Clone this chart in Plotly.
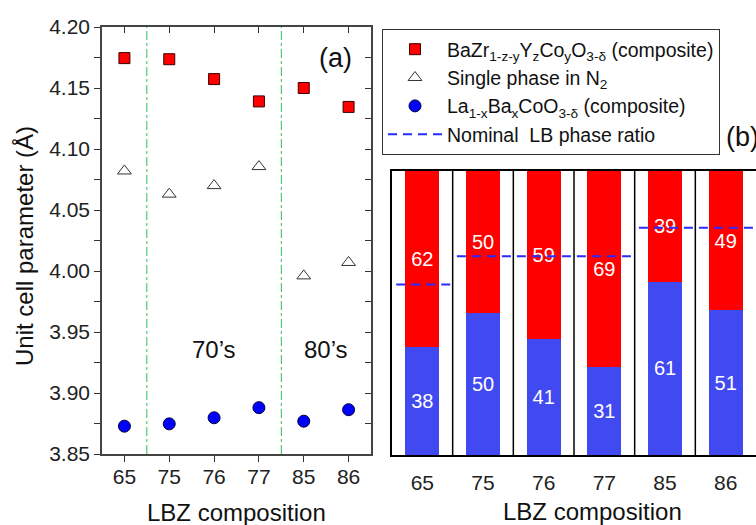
import plotly.graph_objects as go

# ---------------- data ----------------
categories = ["65", "75", "76", "77", "85", "86"]
bzyc_lattice = [4.1745, 4.1736, 4.1573, 4.139, 4.150, 4.1345]
single_n2 = [4.082, 4.063, 4.070, 4.0856, 3.996, 4.007]
lbc_lattice = [3.8728, 3.8747, 3.8797, 3.888, 3.8769, 3.8863]

lb_fraction = [38, 50, 41, 31, 61, 51]
bz_fraction = [62, 50, 59, 69, 39, 49]
nominal_lb = [60, 70, 70, 70, 80, 80]

group_labels = ["70\u2019s", "80\u2019s"]

xpos = list(range(len(categories)))

W, H = 756, 525
FONT = "Liberation Sans, Arial, sans-serif"
RED = "#ff0000"
BLUE_BAR = "#4149f0"
BLUE_MK = "#0000ff"
DASH_BLUE = "#2a2aff"

def px_x(p):
    return p / W

def px_y(p):
    return 1 - p / H

fig = go.Figure()

# ---------------- panel (a) ----------------
fig.add_trace(go.Scatter(
    x=xpos, y=bzyc_lattice, mode="markers", xaxis="x", yaxis="y",
    name="BaZr<sub>1-z-y</sub>Y<sub>z</sub>Co<sub>y</sub>O<sub>3-\u03b4</sub> (composite)",
    marker=dict(symbol="square", size=11, color=RED, line=dict(color="#3a0000", width=1)),
))
fig.add_trace(go.Scatter(
    x=xpos, y=single_n2, mode="markers", xaxis="x", yaxis="y",
    name="Single phase in N<sub>2</sub>",
    marker=dict(symbol="triangle-up-open", size=12, color="#333333", line=dict(color="#333333", width=1)),
))
fig.add_trace(go.Scatter(
    x=xpos, y=lbc_lattice, mode="markers", xaxis="x", yaxis="y",
    name="La<sub>1-x</sub>Ba<sub>x</sub>CoO<sub>3-\u03b4</sub> (composite)",
    marker=dict(symbol="circle", size=12, color=BLUE_MK, line=dict(color="#000033", width=1)),
))
# invisible trace to carry the mirrored (inside) tick axes
fig.add_trace(go.Scatter(
    x=xpos, y=bzyc_lattice, mode="markers", xaxis="x3", yaxis="y3",
    marker=dict(opacity=0), showlegend=False, hoverinfo="skip",
))

# ---------------- panel (b) ----------------
fig.add_trace(go.Bar(
    x=xpos, y=lb_fraction, xaxis="x2", yaxis="y2", width=0.56,
    marker=dict(color=BLUE_BAR, line=dict(width=0)),
    text=[str(v) for v in lb_fraction], textposition="inside",
    insidetextanchor="middle", textangle=0,
    textfont=dict(color="white", size=20, family=FONT),
    showlegend=False, hoverinfo="skip",
))
fig.add_trace(go.Bar(
    x=xpos, y=bz_fraction, xaxis="x2", yaxis="y2", width=0.56,
    marker=dict(color=RED, line=dict(width=0)),
    text=[str(v) for v in bz_fraction], textposition="inside",
    insidetextanchor="middle", textangle=0,
    textfont=dict(color="white", size=20, family=FONT),
    showlegend=False, hoverinfo="skip",
))

# nominal LB ratio dashed segments, grouped by equal nominal value
groups = []
start = 0
for i in range(1, len(nominal_lb) + 1):
    if i == len(nominal_lb) or nominal_lb[i] != nominal_lb[start]:
        groups.append((start, i - 1, nominal_lb[start]))
        start = i
for gi, (a, b, v) in enumerate(groups):
    fig.add_trace(go.Scatter(
        x=[a - 0.43, b + 0.47], y=[v, v], mode="lines", xaxis="x2", yaxis="y2",
        name="Nominal\u00a0 LB phase ratio",
        line=dict(color=DASH_BLUE, width=2, dash="9px,6px"),
        showlegend=(gi == 0), hoverinfo="skip",
    ))

# ---------------- layout ----------------
left_dom_x = [px_x(102), px_x(371)]
left_dom_y = [px_y(454), px_y(27)]
right_dom_x = [px_x(392), 1.0]
right_dom_y = [px_y(455), px_y(171)]

axis_font = dict(family=FONT, size=21, color="#222222")

shapes = []
# group separators in panel (a)
for a, b, v in groups[:-1]:
    shapes.append(dict(type="line", xref="x", yref="y domain", x0=b + 0.5, x1=b + 0.5,
                       y0=0, y1=1, line=dict(color="#33bb55", width=1, dash="dashdot")))
# cell separators in panel (b)
for i in range(len(categories) - 1):
    shapes.append(dict(type="line", xref="x2", yref="y2 domain", x0=i + 0.5, x1=i + 0.5,
                       y0=0, y1=1, line=dict(color="black", width=1.5), layer="above"))

def ann(text, x, y, size, xref="paper", xanchor="center", angle=0):
    return dict(text=text, xref=xref, yref="paper", x=x, y=y, showarrow=False,
                xanchor=xanchor, yanchor="middle", textangle=angle,
                font=dict(family=FONT, size=size, color="#111111"))

annotations = [
    ann("(a)", px_x(335), px_y(58), 27),
    ann("(b)", px_x(724), px_y(137), 27, xanchor="left"),
    ann(group_labels[0], (groups[1][0] + groups[1][1]) / 2, px_y(349), 24, xref="x"),
    ann(group_labels[1], (groups[2][0] + groups[2][1]) / 2, px_y(349), 24, xref="x"),
    ann("LBZ composition", px_x(236), px_y(512), 24),
    ann("LBZ composition", px_x(592), px_y(511), 24),
    ann("Unit cell parameter (\u00c5)", px_x(24), px_y(246), 24, angle=-90),
]

common = dict(automargin=False, showgrid=False, zeroline=False)

fig.update_layout(
    template="none",
    width=W, height=H,
    margin=dict(l=0, r=0, t=0, b=0, pad=0, autoexpand=False),
    paper_bgcolor="white", plot_bgcolor="white",
    font=dict(family=FONT, color="#111111"),
    barmode="stack",
    showlegend=True,
    legend=dict(
        x=px_x(382), y=px_y(29), xanchor="left", yanchor="top",
        bordercolor="#333333", borderwidth=1, bgcolor="white",
        font=dict(family=FONT, size=19.5, color="#111111"),
        itemwidth=54, tracegroupgap=0, traceorder="normal",
    ),
    xaxis=dict(
        domain=left_dom_x, range=[-0.5, 5.5], anchor="y",
        tickvals=xpos, ticktext=categories, tickfont=axis_font,
        ticks="outside", ticklen=6, tickcolor="#333333", ticklabelstandoff=-3,
        showline=True, linecolor="#444444", linewidth=1.5, mirror=True, **common,
    ),
    yaxis=dict(
        domain=left_dom_y, range=[3.85, 4.20], anchor="x",
        tickvals=[3.85, 3.90, 3.95, 4.00, 4.05, 4.10, 4.15, 4.20],
        ticktext=["3.85", "3.90", "3.95", "4.00", "4.05", "4.10", "4.15", "4.20"],
        tickfont=axis_font, ticks="outside", ticklen=6, tickcolor="#333333",
        minor=dict(dtick=0.025, tick0=3.85, ticks="outside", ticklen=6, tickcolor="#333333", showgrid=False),
        showline=True, linecolor="#444444", linewidth=1.5, mirror=True, **common,
    ),
    xaxis3=dict(
        overlaying="x", matches="x", side="top", anchor="y3", range=[-0.5, 5.5],
        tickvals=xpos, showticklabels=False, ticks="inside", ticklen=6, tickcolor="#333333",
        showline=False, **common,
    ),
    yaxis3=dict(
        overlaying="y", matches="y", side="right", anchor="x3", range=[3.85, 4.20],
        tickvals=[3.85, 3.90, 3.95, 4.00, 4.05, 4.10, 4.15, 4.20],
        showticklabels=False, ticks="inside", ticklen=6, tickcolor="#333333",
        minor=dict(dtick=0.025, tick0=3.85, ticks="inside", ticklen=6, tickcolor="#333333", showgrid=False),
        showline=False, **common,
    ),
    xaxis2=dict(
        domain=right_dom_x, range=[-0.5, 5.5], anchor="y2",
        tickvals=xpos, ticktext=categories, tickfont=axis_font,
        ticks="", ticklabelstandoff=8,
        showline=True, linecolor="black", linewidth=1.5, mirror=True, **common,
    ),
    yaxis2=dict(
        domain=right_dom_y, range=[0, 100], anchor="x2",
        showticklabels=False, ticks="",
        showline=True, linecolor="black", linewidth=1.5, mirror=True, **common,
    ),
    shapes=shapes,
    annotations=annotations,
)

fig.write_html(
    "out.html",
    config={"displayModeBar": False},
    post_script="document.body.style.margin='0';document.body.style.overflow='hidden';",
)
